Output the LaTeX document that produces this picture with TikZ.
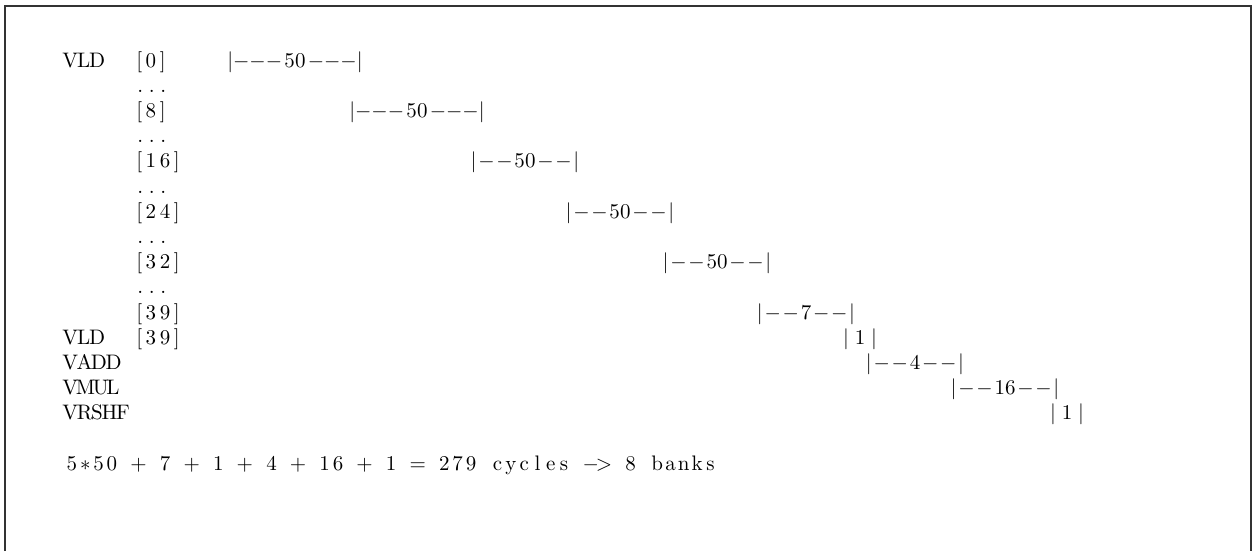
\documentclass[tikz,border=0pt]{standalone}
\usepackage{amsmath}
\usepackage{tikz}

\newcommand{\ck}{\mkern1.5mu}

\begin{document}
\begin{tikzpicture}[x=0.476pt, y=-0.476pt]
    \useasboundingbox (0,0) rectangle (1253,551);
    \draw[draw=black!80, line width=0.7pt] (5,551) |- (1251,6) -- (1251,551);

    % instructions
    \begin{scope}[every node/.style={anchor=base west, inner sep=0pt}]
        \node (vld)   at (62,67)    {V\kern-.5pt L\kern-.5pt D};
        \node (vld2)  at (62,344.2) {V\kern-.5pt L\kern-.5pt D};
        \node (vadd)  at (62,369.4) {V\kern-.7pt A\kern-.7pt D\kern-.7pt D};
        \node (vmul)  at (62,394.6) {V\kern-1.1pt M\kern-1.1pt U\kern-1.1pt L};
        \node (vrshf) at (62,419.8) {V\kern-.6pt R\kern-.6pt S\kern-.6pt H\kern-.6pt F};
    \end{scope}

    % element indices
    \begin{scope}[every node/.style={anchor=base west, inner sep=0pt}]
        \node (i0)  at (136,67)    {[\,0\,]};
        \node (d1)  at (137,92.2)  {.\kern2.7pt.\kern2.7pt.};
        \node (i8)  at (136,117.4) {[\,8\,]};
        \node (d3)  at (137,142.6) {.\kern2.7pt.\kern2.7pt.};
        \node (i16) at (136,167.8) {[\,1\,6\,]};
        \node (d5)  at (137,193)   {.\kern2.7pt.\kern2.7pt.};
        \node (i24) at (136,218.2) {[\,2\,4\,]};
        \node (d7)  at (137,243.4) {.\kern2.7pt.\kern2.7pt.};
        \node (i32) at (136,268.6) {[\,3\,2\,]};
        \node (d9)  at (137,293.8) {.\kern2.7pt.\kern2.7pt.};
        \node (i39) at (136,319)   {[\,3\,9\,]};
        \node (j39) at (136,344.2) {[\,3\,9\,]};
    \end{scope}

    % busy cycles
    \begin{scope}[every node/.style={anchor=base, inner sep=0pt}]
        \node (b0)  at (295,67)     {$|{-}{-}{-}\mkern2mu 50\mkern2mu{-}{-}{-}|$};
        \node (b8)  at (417,117.4)  {$|{-}{-}{-}\mkern2mu 50\mkern2mu{-}{-}{-}|$};
        \node (b16) at (525,167.8)  {$|\ck{-}\ck{-}\ck 50\ck{-}\ck{-}\ck|$};
        \node (b24) at (620,218.2)  {$|\ck{-}\ck{-}\ck 50\ck{-}\ck{-}\ck|$};
        \node (b32) at (717,268.6)  {$|\ck{-}\ck{-}\ck 50\ck{-}\ck{-}\ck|$};
        \node (b39) at (806,319)    {$|\ck{-}\ck{-}\ck 7\ck{-}\ck{-}\ck|$};
        \node (ld)  at (860,344.2)  {$|\mkern5mu 1\mkern5mu|$};
        \node (add) at (915,369.4)  {$|\ck{-}\ck{-}\ck 4\ck{-}\ck{-}\ck|$};
        \node (mul) at (1005,394.6) {$|\ck{-}\ck{-}\ck 16\ck{-}\ck{-}\ck|$};
        \node (shf) at (1067,419.8) {$|\mkern5mu 1\mkern5mu|$};
    \end{scope}

    % total
    \foreach \ch/\col in {5/0, {$\ast$}/1, 5/2, 0/3, +/5, 7/7, +/9, 1/11, +/13, 4/15,
                          +/17, 1/19, 6/20, +/22, 1/24, =/26, 2/28, 7/29, 9/30,
                          c/32, y/33, c/34, l/35, e/36, s/37, {$-$}/39, >/40,
                          8/42, b/44, a/45, n/46, k/47, s/48}
        \node[anchor=base, inner sep=0pt] (sum\col) at (72+13.3*\col,470.2) {\ch};
\end{tikzpicture}
\end{document}
